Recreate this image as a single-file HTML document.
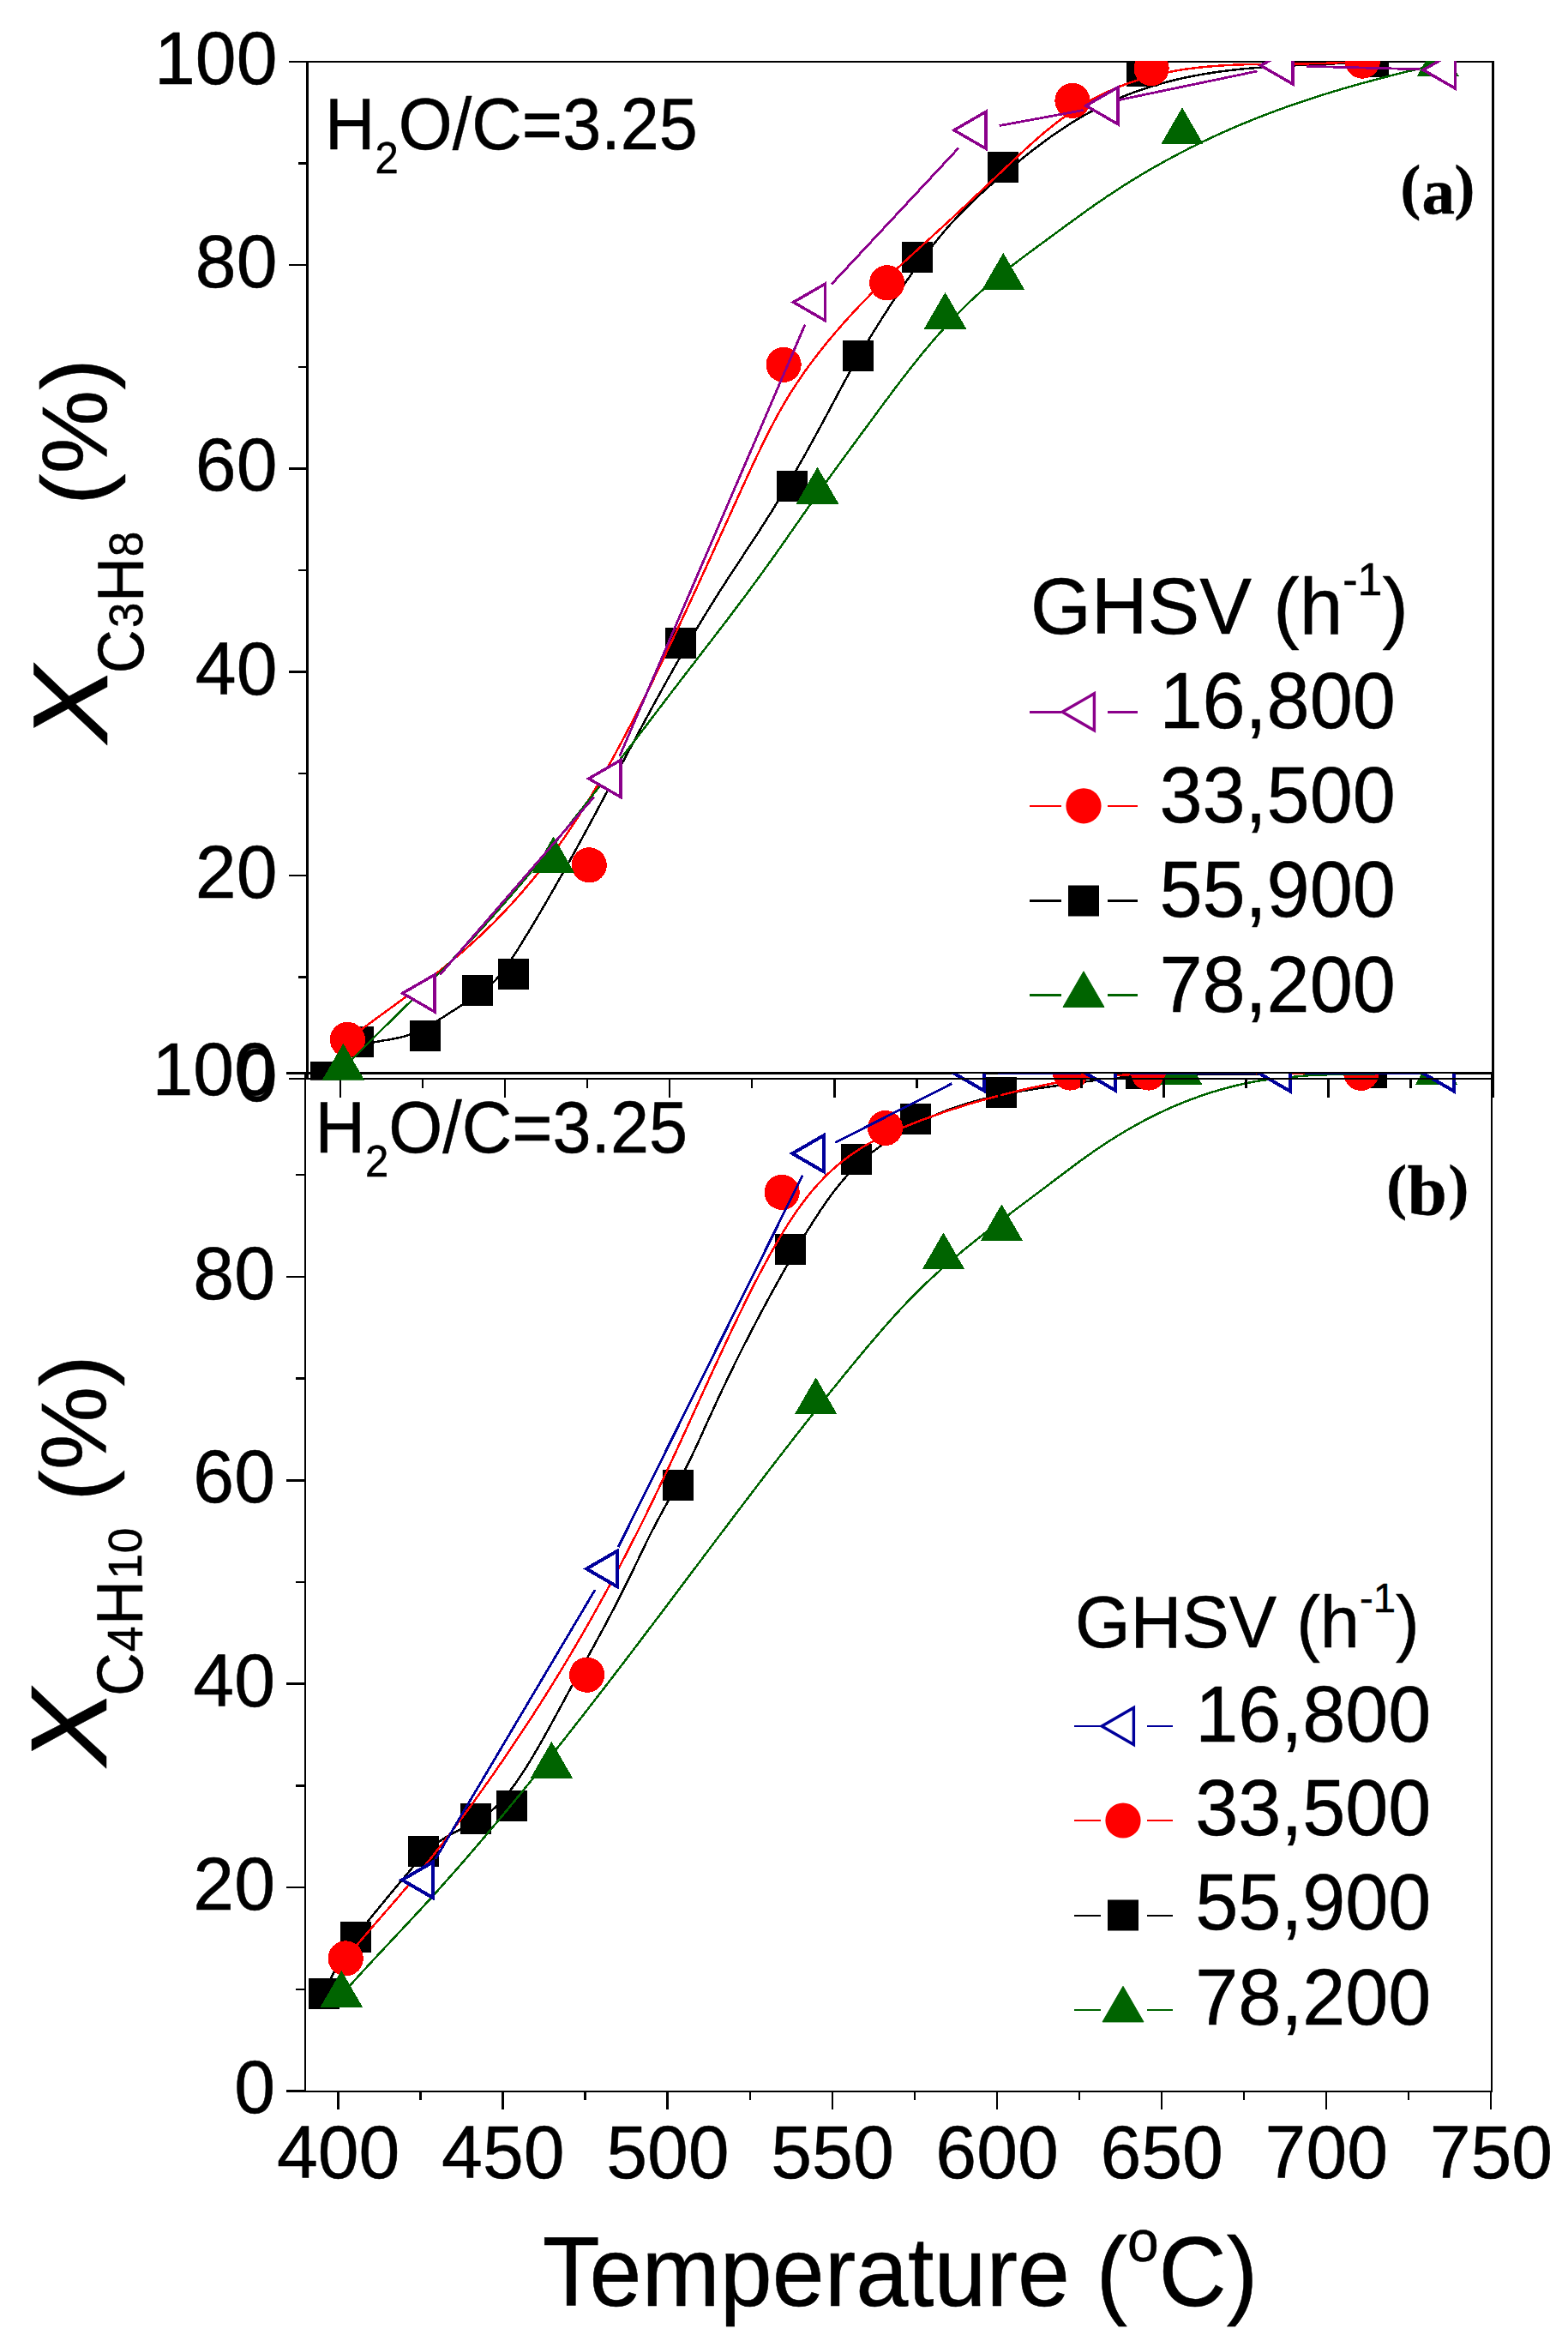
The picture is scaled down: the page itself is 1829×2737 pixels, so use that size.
<!DOCTYPE html>
<html lang="en"><head><meta charset="utf-8"><title>Conversion vs temperature</title>
<style>html,body{margin:0;padding:0;background:#fff}svg{display:block}text{stroke:#000;stroke-width:.5px;stroke-linejoin:round}</style></head><body>
<svg width="1829" height="2737" viewBox="0 0 1829 2737">
<rect width="1829" height="2737" fill="#fff"/>
<defs>
<clipPath id="clipA"><rect x="357.5" y="71" width="1385" height="1188.7"/></clipPath>
<clipPath id="clipB"><rect x="355" y="1252" width="1386" height="1187"/></clipPath>
</defs>
<!-- panel b -->
<g stroke="#000" stroke-width="2.5" fill="none" shape-rendering="crispEdges">
<path stroke="none" fill="#000" d="M355 1250H357V2440H355Z M1739 1250H1741V2440H1739Z M355 1250H1741V1253H355Z M355 2438H1741V2440H355Z"/>
<path d="M356 2438.5 H334"/>
<path d="M356 2319.8 H345"/>
<path d="M356 2201.1 H334"/>
<path d="M356 2082.4 H345"/>
<path d="M356 1963.7 H334"/>
<path d="M356 1845 H345"/>
<path d="M356 1726.3 H334"/>
<path d="M356 1607.6 H345"/>
<path d="M356 1488.9 H334"/>
<path d="M356 1370.2 H345"/>
<path d="M356 1251.5 H334"/>
<path d="M394.5 2438.5 V2459.8"/>
<path d="M490.6 2438.5 V2449.1"/>
<path d="M586.6 2438.5 V2459.8"/>
<path d="M682.7 2438.5 V2449.1"/>
<path d="M778.7 2438.5 V2459.8"/>
<path d="M874.8 2438.5 V2449.1"/>
<path d="M970.8 2438.5 V2459.8"/>
<path d="M1066.8 2438.5 V2449.1"/>
<path d="M1162.9 2438.5 V2459.8"/>
<path d="M1259 2438.5 V2449.1"/>
<path d="M1355 2438.5 V2459.8"/>
<path d="M1451 2438.5 V2449.1"/>
<path d="M1547.1 2438.5 V2459.8"/>
<path d="M1643.2 2438.5 V2449.1"/>
<path d="M1739.2 2438.5 V2459.8"/>
</g>
<g font-family='"Liberation Sans", sans-serif' font-size="86" text-anchor="end" fill="#000">
<text transform="translate(321,2464.4) scale(1,1.015)">0</text>
<text transform="translate(321,2227) scale(1,1.015)">20</text>
<text transform="translate(321,1989.6) scale(1,1.015)">40</text>
<text transform="translate(321,1752.2) scale(1,1.015)">60</text>
<text transform="translate(321,1514.8) scale(1,1.015)">80</text>
<text transform="translate(321,1277.4) scale(1,1.015)">100</text>
</g>
<g font-family='"Liberation Sans", sans-serif' font-size="86" text-anchor="middle" fill="#000">
<text transform="translate(394.7,2539.6) scale(1,1.005)">400</text>
<text transform="translate(586.8,2539.6) scale(1,1.005)">450</text>
<text transform="translate(778.9,2539.6) scale(1,1.005)">500</text>
<text transform="translate(971,2539.6) scale(1,1.005)">550</text>
<text transform="translate(1163.1,2539.6) scale(1,1.005)">600</text>
<text transform="translate(1355.2,2539.6) scale(1,1.005)">650</text>
<text transform="translate(1547.3,2539.6) scale(1,1.005)">700</text>
<text transform="translate(1739.4,2539.6) scale(1,1.005)">750</text>
</g>
<g clip-path="url(#clipB)" shape-rendering="crispEdges">
<path d="M377.6 2325 L381.6 2316.2 L385.6 2307.9 L389.6 2300 L393.6 2292.6 L397.6 2285.6 L401.6 2279 L405.6 2272.7 L409.6 2266.7 L413.6 2260.9 L417.6 2255.4 L421.6 2250.1 L425.6 2245 L429.6 2240 L433.6 2235 L437.6 2230.1 L441.6 2225.3 L445.6 2220.4 L449.6 2215.6 L453.6 2210.7 L457.6 2205.9 L461.6 2201.1 L465.6 2196.3 L469.6 2191.6 L473.6 2186.8 L477.6 2182.1 L481.6 2177.4 L485.6 2172.8 L489.6 2168.3 L493.6 2163.9 L497.6 2159.9 L501.6 2156.2 L505.6 2152.7 L509.6 2149.6 L513.6 2146.7 L517.6 2144 L521.6 2141.6 L525.6 2139.3 L529.6 2137.1 L533.6 2135.1 L537.6 2133.1 L541.6 2131.1 L545.6 2129.1 L549.6 2127.1 L553.6 2124.9 L557.6 2122.6 L561.6 2120.1 L565.6 2117.4 L569.6 2114.5 L573.6 2111.3 L577.6 2107.8 L581.6 2103.9 L585.6 2099.6 L589.6 2095 L593.6 2090.1 L597.6 2084.8 L601.6 2079.3 L605.6 2073.6 L609.6 2067.5 L613.6 2061.3 L617.6 2054.8 L621.6 2048.2 L625.6 2041.4 L629.6 2034.5 L633.6 2027.4 L637.6 2020.3 L641.6 2013 L645.6 2005.7 L649.6 1998.4 L653.6 1991 L657.6 1983.6 L661.6 1976.2 L665.6 1968.9 L669.6 1961.5 L673.6 1954.3 L677.6 1947 L681.6 1939.7 L685.6 1932.4 L689.6 1925.1 L693.6 1917.8 L697.6 1910.4 L701.6 1903 L705.6 1895.6 L709.6 1888 L713.6 1880.4 L717.6 1872.7 L721.6 1865 L725.6 1857.1 L729.6 1849.1 L733.6 1841 L737.6 1832.8 L741.6 1824.4 L745.6 1816.1 L749.6 1807.8 L753.6 1799.5 L757.6 1791.4 L761.6 1783.5 L765.6 1775.8 L769.6 1768.3 L773.6 1760.9 L777.6 1753.7 L781.6 1746.6 L785.6 1739.4 L789.6 1732.1 L793.6 1724.6 L797.6 1717 L801.6 1709 L805.6 1700.8 L809.6 1692.4 L813.6 1683.7 L817.6 1675 L821.6 1666.1 L825.6 1657.3 L829.6 1648.5 L833.6 1639.8 L837.6 1631.1 L841.6 1622.6 L845.6 1614.2 L849.6 1605.9 L853.6 1597.6 L857.6 1589.5 L861.6 1581.4 L865.6 1573.4 L869.6 1565.5 L873.6 1557.7 L877.6 1550 L881.6 1542.3 L885.6 1534.7 L889.6 1527.2 L893.6 1519.8 L897.6 1512.4 L901.6 1505.1 L905.6 1497.8 L909.6 1490.7 L913.6 1483.5 L917.6 1476.5 L921.6 1469.5 L925.6 1462.5 L929.6 1455.7 L933.6 1448.9 L937.6 1442.2 L941.6 1435.6 L945.6 1429.2 L949.6 1422.8 L953.6 1416.7 L957.6 1410.6 L961.6 1404.8 L965.6 1399.1 L969.6 1393.6 L973.6 1388.3 L977.6 1383.2 L981.6 1378.4 L985.6 1373.7 L989.6 1369.3 L993.6 1365.1 L997.6 1361.1 L1001.6 1357.3 L1005.6 1353.7 L1009.6 1350.2 L1013.6 1346.8 L1017.6 1343.6 L1021.6 1340.6 L1025.6 1337.6 L1029.6 1334.7 L1033.6 1331.9 L1037.6 1329.2 L1041.6 1326.6 L1045.6 1324 L1049.6 1321.5 L1053.6 1319.1 L1057.6 1316.8 L1061.6 1314.6 L1065.6 1312.4 L1069.6 1310.3 L1073.6 1308.3 L1077.6 1306.4 L1081.6 1304.5 L1085.6 1302.6 L1089.6 1300.9 L1093.6 1299.2 L1097.6 1297.5 L1101.6 1296 L1105.6 1294.4 L1109.6 1293 L1113.6 1291.6 L1117.6 1290.2 L1121.6 1288.9 L1125.6 1287.6 L1129.6 1286.4 L1133.6 1285.2 L1137.6 1284.1 L1141.6 1283 L1145.6 1282 L1149.6 1281 L1153.6 1280 L1157.6 1279.1 L1161.6 1278.2 L1165.6 1277.3 L1169.6 1276.5 L1173.6 1275.7 L1177.6 1274.9 L1181.6 1274.1 L1185.6 1273.4 L1189.6 1272.7 L1193.6 1272 L1197.6 1271.4 L1201.6 1270.7 L1205.6 1270.1 L1209.6 1269.5 L1213.6 1268.9 L1217.6 1268.3 L1221.6 1267.7 L1225.6 1267.1 L1229.6 1266.5 L1233.6 1266 L1237.6 1265.4 L1241.6 1264.8 L1245.6 1264.3 L1249.6 1263.7 L1253.6 1263.2 L1257.6 1262.6 L1261.6 1262 L1265.6 1261.4 L1267.8 1261.1 L1331 1254 L1599.7 1251" fill="none" stroke="#000000" stroke-width="2.5" stroke-linejoin="round"/>
<rect x="359.6" y="2307" width="36" height="36" fill="#000000"/><rect x="396.9" y="2240.5" width="36" height="36" fill="#000000"/><rect x="475.7" y="2140.9" width="36" height="36" fill="#000000"/><rect x="536.5" y="2103.4" width="36" height="36" fill="#000000"/><rect x="578.9" y="2088.4" width="36" height="36" fill="#000000"/><rect x="773.4" y="1714.2" width="36" height="36" fill="#000000"/><rect x="904" y="1438.8" width="36" height="36" fill="#000000"/><rect x="981" y="1333.8" width="36" height="36" fill="#000000"/><rect x="1050" y="1286.5" width="36" height="36" fill="#000000"/><rect x="1150" y="1256" width="36" height="36" fill="#000000"/><rect x="1313" y="1233.7" width="36" height="36" fill="#000000"/><rect x="1581.7" y="1233" width="36" height="36" fill="#000000"/>
<path d="M403.2 2283.9 L407.2 2279.1 L411.2 2274.3 L415.2 2269.6 L419.2 2264.9 L423.2 2260.2 L427.2 2255.5 L431.2 2250.9 L435.2 2246.2 L439.2 2241.6 L443.2 2237 L447.2 2232.4 L451.2 2227.8 L455.2 2223.2 L459.2 2218.6 L463.2 2214 L467.2 2209.3 L471.2 2204.6 L475.2 2200 L479.2 2195.2 L483.2 2190.5 L487.2 2185.7 L491.2 2180.9 L495.2 2176 L499.2 2171.1 L503.2 2166.2 L507.2 2161.2 L511.2 2156.1 L515.2 2151 L519.2 2145.8 L523.2 2140.7 L527.2 2135.4 L531.2 2130.1 L535.2 2124.8 L539.2 2119.4 L543.2 2114 L547.2 2108.6 L551.2 2103.1 L555.2 2097.5 L559.2 2092 L563.2 2086.4 L567.2 2080.7 L571.2 2075 L575.2 2069.3 L579.2 2063.5 L583.2 2057.7 L587.2 2051.9 L591.2 2046 L595.2 2040.1 L599.2 2034.2 L603.2 2028.2 L607.2 2022.2 L611.2 2016.1 L615.2 2010 L619.2 2003.9 L623.2 1997.7 L627.2 1991.5 L631.2 1985.2 L635.2 1978.9 L639.2 1972.5 L643.2 1966.1 L647.2 1959.6 L651.2 1953.1 L655.2 1946.5 L659.2 1939.9 L663.2 1933.2 L667.2 1926.5 L671.2 1919.7 L675.2 1912.8 L679.2 1905.9 L683.2 1899 L687.2 1891.9 L691.2 1884.9 L695.2 1877.7 L699.2 1870.5 L703.2 1863.2 L707.2 1855.9 L711.2 1848.5 L715.2 1841 L719.2 1833.5 L723.2 1825.9 L727.2 1818.3 L731.2 1810.6 L735.2 1802.8 L739.2 1794.9 L743.2 1787 L747.2 1779 L751.2 1771 L755.2 1762.9 L759.2 1754.7 L763.2 1746.4 L767.2 1738.1 L771.2 1729.7 L775.2 1721.3 L779.2 1712.8 L783.2 1704.2 L787.2 1695.6 L791.2 1686.9 L795.2 1678.2 L799.2 1669.4 L803.2 1660.7 L807.2 1651.9 L811.2 1643.1 L815.2 1634.3 L819.2 1625.5 L823.2 1616.8 L827.2 1608 L831.2 1599.3 L835.2 1590.6 L839.2 1581.9 L843.2 1573.3 L847.2 1564.7 L851.2 1556.2 L855.2 1547.7 L859.2 1539.4 L863.2 1531.1 L867.2 1522.9 L871.2 1514.7 L875.2 1506.7 L879.2 1498.8 L883.2 1491 L887.2 1483.4 L891.2 1475.9 L895.2 1468.5 L899.2 1461.2 L903.2 1454.2 L907.2 1447.3 L911.2 1440.5 L915.2 1434 L919.2 1427.6 L923.2 1421.4 L927.2 1415.5 L931.2 1409.7 L935.2 1404.2 L939.2 1398.9 L943.2 1393.8 L947.2 1388.9 L951.2 1384.3 L955.2 1379.8 L959.2 1375.6 L963.2 1371.5 L967.2 1367.6 L971.2 1363.9 L975.2 1360.4 L979.2 1357 L983.2 1353.8 L987.2 1350.7 L991.2 1347.7 L995.2 1344.9 L999.2 1342.3 L1003.2 1339.7 L1007.2 1337.2 L1011.2 1334.9 L1015.2 1332.7 L1019.2 1330.5 L1023.2 1328.4 L1027.2 1326.4 L1031.2 1324.5 L1035.2 1322.7 L1039.2 1320.9 L1043.2 1319.1 L1047.2 1317.4 L1051.2 1315.7 L1055.2 1314.1 L1059.2 1312.5 L1063.2 1310.9 L1067.2 1309.3 L1071.2 1307.7 L1075.2 1306.2 L1079.2 1304.7 L1083.2 1303.3 L1087.2 1301.8 L1091.2 1300.4 L1095.2 1299 L1099.2 1297.6 L1103.2 1296.2 L1107.2 1294.9 L1111.2 1293.6 L1115.2 1292.3 L1119.2 1291 L1123.2 1289.7 L1127.2 1288.5 L1131.2 1287.3 L1135.2 1286.1 L1139.2 1284.9 L1143.2 1283.8 L1147.2 1282.6 L1151.2 1281.5 L1155.2 1280.4 L1159.2 1279.3 L1163.2 1278.3 L1167.2 1277.2 L1171.2 1276.2 L1175.2 1275.2 L1179.2 1274.2 L1183.2 1273.2 L1187.2 1272.3 L1191.2 1271.3 L1195.2 1270.4 L1199.2 1269.5 L1203.2 1268.6 L1207.2 1267.7 L1211.2 1266.9 L1215.2 1266 L1219.2 1265.2 L1223.2 1264.3 L1227.2 1263.5 L1231.2 1262.7 L1235.2 1261.9 L1239.2 1261.2 L1243.2 1260.4 L1247.2 1259.7 L1251.2 1258.9 L1255.2 1258.2 L1259.2 1257.5 L1263.2 1256.8 L1267.2 1256.1 L1339.7 1252 L1587.8 1251.3" fill="none" stroke="#ff0000" stroke-width="2.5" stroke-linejoin="round"/>
<circle cx="403.2" cy="2283.9" r="20.6" fill="#ff0000"/><circle cx="684.6" cy="1953.2" r="20.6" fill="#ff0000"/><circle cx="912.2" cy="1390.4" r="20.6" fill="#ff0000"/><circle cx="1032.6" cy="1315.5" r="20.6" fill="#ff0000"/><circle cx="1248.3" cy="1251" r="20.6" fill="#ff0000"/><circle cx="1339.7" cy="1251" r="20.6" fill="#ff0000"/><circle cx="1587.8" cy="1251.3" r="20.6" fill="#ff0000"/>
<path d="M398.3 2326.6 L402.3 2322.1 L406.3 2317.6 L410.3 2313.1 L414.3 2308.7 L418.3 2304.3 L422.3 2299.9 L426.3 2295.6 L430.3 2291.3 L434.3 2286.9 L438.3 2282.6 L442.3 2278.4 L446.3 2274.1 L450.3 2269.8 L454.3 2265.5 L458.3 2261.3 L462.3 2257 L466.3 2252.7 L470.3 2248.5 L474.3 2244.2 L478.3 2239.9 L482.3 2235.6 L486.3 2231.3 L490.3 2227 L494.3 2222.6 L498.3 2218.3 L502.3 2213.9 L506.3 2209.5 L510.3 2205 L514.3 2200.6 L518.3 2196.1 L522.3 2191.6 L526.3 2187.1 L530.3 2182.6 L534.3 2178 L538.3 2173.4 L542.3 2168.9 L546.3 2164.2 L550.3 2159.6 L554.3 2155 L558.3 2150.3 L562.3 2145.6 L566.3 2140.9 L570.3 2136.2 L574.3 2131.4 L578.3 2126.6 L582.3 2121.9 L586.3 2117.1 L590.3 2112.3 L594.3 2107.4 L598.3 2102.6 L602.3 2097.7 L606.3 2092.8 L610.3 2087.9 L614.3 2083 L618.3 2078.1 L622.3 2073.2 L626.3 2068.2 L630.3 2063.2 L634.3 2058.3 L638.3 2053.3 L642.3 2048.3 L646.3 2043.2 L650.3 2038.2 L654.3 2033.1 L658.3 2028.1 L662.3 2023 L666.3 2017.9 L670.3 2012.8 L674.3 2007.7 L678.3 2002.6 L682.3 1997.5 L686.3 1992.3 L690.3 1987.2 L694.3 1982 L698.3 1976.8 L702.3 1971.7 L706.3 1966.5 L710.3 1961.3 L714.3 1956.1 L718.3 1950.8 L722.3 1945.6 L726.3 1940.4 L730.3 1935.1 L734.3 1929.9 L738.3 1924.6 L742.3 1919.4 L746.3 1914.1 L750.3 1908.8 L754.3 1903.5 L758.3 1898.2 L762.3 1893 L766.3 1887.7 L770.3 1882.4 L774.3 1877.1 L778.3 1871.7 L782.3 1866.4 L786.3 1861.1 L790.3 1855.8 L794.3 1850.5 L798.3 1845.2 L802.3 1839.8 L806.3 1834.5 L810.3 1829.2 L814.3 1823.9 L818.3 1818.6 L822.3 1813.2 L826.3 1807.9 L830.3 1802.6 L834.3 1797.3 L838.3 1792 L842.3 1786.7 L846.3 1781.4 L850.3 1776.1 L854.3 1770.8 L858.3 1765.5 L862.3 1760.2 L866.3 1755 L870.3 1749.7 L874.3 1744.4 L878.3 1739.2 L882.3 1733.9 L886.3 1728.7 L890.3 1723.5 L894.3 1718.2 L898.3 1713 L902.3 1707.8 L906.3 1702.6 L910.3 1697.4 L914.3 1692.3 L918.3 1687.1 L922.3 1682 L926.3 1676.8 L930.3 1671.7 L934.3 1666.6 L938.3 1661.5 L942.3 1656.4 L946.3 1651.3 L950.3 1646.3 L954.3 1641.2 L958.3 1636.2 L962.3 1631.2 L966.3 1626.2 L970.3 1621.2 L974.3 1616.3 L978.3 1611.4 L982.3 1606.4 L986.3 1601.5 L990.3 1596.6 L994.3 1591.8 L998.3 1586.9 L1002.3 1582.1 L1006.3 1577.3 L1010.3 1572.5 L1014.3 1567.8 L1018.3 1563.1 L1022.3 1558.4 L1026.3 1553.7 L1030.3 1549.1 L1034.3 1544.6 L1038.3 1540 L1042.3 1535.6 L1046.3 1531.2 L1050.3 1526.8 L1054.3 1522.6 L1058.3 1518.4 L1062.3 1514.2 L1066.3 1510.1 L1070.3 1506.1 L1074.3 1502.2 L1078.3 1498.3 L1082.3 1494.5 L1086.3 1490.8 L1090.3 1487.1 L1094.3 1483.5 L1098.3 1479.9 L1102.3 1476.3 L1106.3 1472.9 L1110.3 1469.4 L1114.3 1466 L1118.3 1462.7 L1122.3 1459.3 L1126.3 1456 L1130.3 1452.8 L1134.3 1449.5 L1138.3 1446.3 L1142.3 1443.2 L1146.3 1440 L1150.3 1436.9 L1154.3 1433.7 L1158.3 1430.6 L1162.3 1427.6 L1166.3 1424.5 L1170.3 1421.4 L1174.3 1418.4 L1178.3 1415.4 L1182.3 1412.3 L1186.3 1409.3 L1190.3 1406.3 L1194.3 1403.3 L1198.3 1400.3 L1202.3 1397.3 L1206.3 1394.3 L1210.3 1391.3 L1214.3 1388.3 L1218.3 1385.3 L1222.3 1382.3 L1226.3 1379.2 L1230.3 1376.2 L1234.3 1373.2 L1238.3 1370.2 L1242.3 1367.1 L1246.3 1364.1 L1250.3 1361.1 L1254.3 1358.2 L1258.3 1355.2 L1262.3 1352.3 L1266.3 1349.4 L1270.3 1346.6 L1274.3 1343.8 L1278.3 1341 L1282.3 1338.3 L1286.3 1335.6 L1290.3 1333 L1294.3 1330.4 L1298.3 1327.9 L1302.3 1325.4 L1306.3 1322.9 L1310.3 1320.5 L1314.3 1318.1 L1318.3 1315.8 L1322.3 1313.6 L1326.3 1311.3 L1330.3 1309.2 L1334.3 1307 L1338.3 1304.9 L1342.3 1302.9 L1346.3 1300.9 L1350.3 1298.9 L1354.3 1297 L1358.3 1295.1 L1362.3 1293.3 L1366.3 1291.5 L1370.3 1289.8 L1374.3 1288.1 L1378.3 1286.4 L1382.3 1284.8 L1386.3 1283.3 L1390.3 1281.7 L1394.3 1280.3 L1398.3 1278.8 L1402.3 1277.4 L1406.3 1276.1 L1410.3 1274.8 L1414.3 1273.5 L1418.3 1272.3 L1422.3 1271.1 L1426.3 1270 L1430.3 1268.9 L1434.3 1267.8 L1438.3 1266.8 L1442.3 1265.8 L1446.3 1264.9 L1450.3 1264 L1454.3 1263.2 L1458.3 1262.4 L1462.3 1261.6 L1466.3 1260.9 L1470.3 1260.2 L1474.3 1259.6 L1478.3 1259 L1482.3 1258.5 L1486.3 1258 L1490.3 1257.5 L1494.3 1257.1 L1498.3 1256.7 L1500 1256.5 L1534.7 1253.5 L1675.5 1251" fill="none" stroke="#006400" stroke-width="2.5" stroke-linejoin="round"/>
<polygon points="398.3,2298.9 374.3,2340.5 422.3,2340.5" fill="#006400" stroke="#006400" stroke-width="1" stroke-linejoin="round"/><polygon points="643.4,2031.9 619.4,2073.5 667.4,2073.5" fill="#006400" stroke="#006400" stroke-width="1" stroke-linejoin="round"/><polygon points="951.7,1607.3 927.7,1648.9 975.7,1648.9" fill="#006400" stroke="#006400" stroke-width="1" stroke-linejoin="round"/><polygon points="1100.5,1438.3 1076.5,1479.9 1124.5,1479.9" fill="#006400" stroke="#006400" stroke-width="1" stroke-linejoin="round"/><polygon points="1168.4,1405.3 1144.4,1446.9 1192.4,1446.9" fill="#006400" stroke="#006400" stroke-width="1" stroke-linejoin="round"/><polygon points="1377.8,1223.3 1353.8,1264.9 1401.8,1264.9" fill="#006400" stroke="#006400" stroke-width="1" stroke-linejoin="round"/><polygon points="1675.5,1223.3 1651.5,1264.9 1699.5,1264.9" fill="#006400" stroke="#006400" stroke-width="1" stroke-linejoin="round"/>
<path d="M508 2167.8 L694.1 1854 M721.3 1804 L936.1 1370.7 M974.2 1332.4 L1110.4 1263.6 M1164.3 1251.6 H1261.1 M1318.1 1251.6 H1464.5 M1521.5 1251.6 H1655.7" fill="none" stroke="#00009b" stroke-width="2.8"/>
<polygon points="469,2192.3 505.3,2171.3 505.3,2213.3" fill="#fff" stroke="#00009b" stroke-width="4" stroke-linejoin="miter"/><polygon points="684.1,1829.5 720.4,1808.5 720.4,1850.5" fill="#fff" stroke="#00009b" stroke-width="4" stroke-linejoin="miter"/><polygon points="924.3,1345.2 960.6,1324.2 960.6,1366.2" fill="#fff" stroke="#00009b" stroke-width="4" stroke-linejoin="miter"/><polygon points="1111.3,1250.8 1147.6,1229.8 1147.6,1271.8" fill="#fff" stroke="#00009b" stroke-width="4" stroke-linejoin="miter"/><polygon points="1265.1,1250.8 1301.4,1229.8 1301.4,1271.8" fill="#fff" stroke="#00009b" stroke-width="4" stroke-linejoin="miter"/><polygon points="1468.5,1251.5 1504.8,1230.5 1504.8,1272.5" fill="#fff" stroke="#00009b" stroke-width="4" stroke-linejoin="miter"/><polygon points="1659.7,1251.5 1696,1230.5 1696,1272.5" fill="#fff" stroke="#00009b" stroke-width="4" stroke-linejoin="miter"/>
</g>
<!-- panel a -->
<g stroke="#000" stroke-width="2.5" fill="none" shape-rendering="crispEdges">
<path stroke="none" fill="#000" d="M357 71H360V1259H357Z M1740 71H1743V1259H1740Z M357 71H1743V73H357Z M357 1257H1743V1259H357Z"/>
<path d="M358.5 1258 H336.5"/>
<path d="M358.5 1139.4 H347.5"/>
<path d="M358.5 1020.8 H336.5"/>
<path d="M358.5 902.2 H347.5"/>
<path d="M358.5 783.6 H336.5"/>
<path d="M358.5 665 H347.5"/>
<path d="M358.5 546.4 H336.5"/>
<path d="M358.5 427.8 H347.5"/>
<path d="M358.5 309.2 H336.5"/>
<path d="M358.5 190.6 H347.5"/>
<path d="M358.5 72 H336.5"/>
<path d="M397 1258 V1280"/>
<path d="M493.1 1258 V1269"/>
<path d="M589.1 1258 V1280"/>
<path d="M685.2 1258 V1269"/>
<path d="M781.2 1258 V1280"/>
<path d="M877.2 1258 V1269"/>
<path d="M973.3 1258 V1280"/>
<path d="M1069.3 1258 V1269"/>
<path d="M1165.4 1258 V1280"/>
<path d="M1261.5 1258 V1269"/>
<path d="M1357.5 1258 V1280"/>
<path d="M1453.5 1258 V1269"/>
<path d="M1549.6 1258 V1280"/>
<path d="M1645.7 1258 V1269"/>
<path d="M1741.7 1258 V1280"/>
</g>
<g font-family='"Liberation Sans", sans-serif' font-size="86" text-anchor="end" fill="#000">
<text transform="translate(323.5,1283.9) scale(1,1.015)">0</text>
<text transform="translate(323.5,1046.7) scale(1,1.015)">20</text>
<text transform="translate(323.5,809.5) scale(1,1.015)">40</text>
<text transform="translate(323.5,572.3) scale(1,1.015)">60</text>
<text transform="translate(323.5,335.1) scale(1,1.015)">80</text>
<text transform="translate(323.5,97.9) scale(1,1.015)">100</text>
</g>
<g clip-path="url(#clipA)" shape-rendering="crispEdges">
<path d="M380 1256 L384 1251 L388 1246.3 L392 1241.9 L396 1237.7 L400 1233.9 L404 1230.4 L408 1227.3 L412 1224.5 L416 1222.2 L420 1220.2 L424 1218.7 L428 1217.4 L432 1216.4 L436 1215.5 L440 1214.7 L444 1214 L448 1213.3 L452 1212.7 L456 1212 L460 1211.2 L464 1210.4 L468 1209.5 L472 1208.4 L476 1207.2 L480 1205.8 L484 1204.2 L488 1202.4 L492 1200.5 L496 1198.5 L500 1196.3 L504 1194 L508 1191.6 L512 1189.2 L516 1186.7 L520 1184.1 L524 1181.6 L528 1179 L532 1176.5 L536 1173.9 L540 1171.4 L544 1169 L548 1166.5 L552 1164 L556 1161.4 L560 1158.6 L564 1155.7 L568 1152.4 L572 1148.9 L576 1145 L580 1140.7 L584 1136 L588 1130.8 L592 1125.3 L596 1119.4 L600 1113.4 L604 1107.1 L608 1100.7 L612 1094.1 L616 1087.6 L620 1081 L624 1074.3 L628 1067.6 L632 1060.8 L636 1054 L640 1047.1 L644 1040.1 L648 1033.2 L652 1026.1 L656 1019.1 L660 1011.9 L664 1004.8 L668 997.5 L672 990.3 L676 983 L680 975.6 L684 968.3 L688 960.9 L692 953.4 L696 946 L700 938.5 L704 931 L708 923.5 L712 916 L716 908.5 L720 901 L724 893.5 L728 885.9 L732 878.4 L736 870.9 L740 863.4 L744 856 L748 848.5 L752 841.1 L756 833.7 L760 826.3 L764 819 L768 811.7 L772 804.4 L776 797.2 L780 790 L784 782.9 L788 775.8 L792 768.8 L796 761.8 L800 754.9 L804 748 L808 741.2 L812 734.4 L816 727.7 L820 721.1 L824 714.5 L828 708 L832 701.6 L836 695.2 L840 688.9 L844 682.7 L848 676.5 L852 670.3 L856 664.2 L860 658.2 L864 652.1 L868 646 L872 640 L876 633.9 L880 627.8 L884 621.7 L888 615.5 L892 609.2 L896 602.9 L900 596.6 L904 590.1 L908 583.5 L912 576.9 L916 570.2 L920 563.4 L924 556.5 L928 549.6 L932 542.6 L936 535.5 L940 528.4 L944 521.2 L948 513.9 L952 506.6 L956 499.3 L960 491.9 L964 484.4 L968 477 L972 469.5 L976 462 L980 454.5 L984 447.1 L988 439.7 L992 432.5 L996 425.4 L1000 418.5 L1004 411.6 L1008 404.9 L1012 398.3 L1016 391.7 L1020 385.3 L1024 378.9 L1028 372.5 L1032 366.2 L1036 360 L1040 353.8 L1044 347.7 L1048 341.7 L1052 335.8 L1056 329.9 L1060 324.1 L1064 318.4 L1068 312.8 L1072 307.3 L1076 301.8 L1080 296.5 L1084 291.3 L1088 286.2 L1092 281.2 L1096 276.3 L1100 271.5 L1104 266.8 L1108 262.3 L1112 257.9 L1116 253.6 L1120 249.4 L1124 245.3 L1128 241.3 L1132 237.4 L1136 233.6 L1140 229.8 L1144 226.1 L1148 222.5 L1152 218.9 L1156 215.4 L1160 211.9 L1164 208.5 L1168 205.1 L1172 201.7 L1176 198.4 L1180 195 L1184 191.7 L1188 188.5 L1192 185.2 L1196 182 L1200 178.9 L1204 175.7 L1208 172.6 L1212 169.6 L1216 166.6 L1220 163.6 L1224 160.7 L1228 157.9 L1232 155.1 L1236 152.4 L1240 149.7 L1244 147.1 L1248 144.5 L1252 142 L1256 139.6 L1260 137.2 L1264 134.9 L1268 132.7 L1272 130.5 L1276 128.4 L1280 126.3 L1284 124.3 L1288 122.4 L1292 120.5 L1296 118.6 L1300 116.8 L1304 115.1 L1308 113.4 L1312 111.8 L1316 110.2 L1320 108.7 L1324 107.2 L1328 105.8 L1332 104.4 L1336 103.1 L1340 101.8 L1344 100.5 L1348 99.3 L1352 98.1 L1356 97 L1360 95.9 L1364 94.9 L1368 93.9 L1372 92.9 L1376 92 L1380 91.1 L1384 90.2 L1388 89.4 L1392 88.6 L1396 87.9 L1400 87.1 L1404 86.5 L1408 85.8 L1412 85.2 L1416 84.5 L1420 84 L1424 83.4 L1428 82.9 L1432 82.4 L1436 81.9 L1440 81.5 L1444 81 L1448 80.6 L1452 80.2 L1456 79.8 L1460 79.5 L1464 79.2 L1468 78.8 L1472 78.5 L1476 78.2 L1480 78 L1484 77.7 L1488 77.5 L1492 77.2 L1496 77 L1500 76.8 L1504 76.6 L1508 76.4 L1512 76.2 L1516 76 L1520 75.8 L1524 75.6 L1528 75.5 L1532 75.3 L1536 75.1 L1540 74.9 L1544 74.8 L1548 74.6 L1552 74.4 L1556 74.3 L1560 74.1 L1564 73.9 L1568 73.7 L1572 73.5 L1576 73.3 L1580 73.1 L1584 72.9 L1588 72.7 L1592 72.4 L1596 72.2 L1600 71.9 L1601.6 71.8" fill="none" stroke="#000000" stroke-width="2.5" stroke-linejoin="round"/>
<rect x="362" y="1238" width="36" height="36" fill="#000000"/><rect x="400" y="1197" width="36" height="36" fill="#000000"/><rect x="477.6" y="1190" width="36" height="36" fill="#000000"/><rect x="539" y="1137" width="36" height="36" fill="#000000"/><rect x="581" y="1118.3" width="36" height="36" fill="#000000"/><rect x="775.5" y="732" width="36" height="36" fill="#000000"/><rect x="906.2" y="548.5" width="36" height="36" fill="#000000"/><rect x="983.1" y="396.9" width="36" height="36" fill="#000000"/><rect x="1052.2" y="282" width="36" height="36" fill="#000000"/><rect x="1152.2" y="177" width="36" height="36" fill="#000000"/><rect x="1314" y="65.4" width="36" height="36" fill="#000000"/><rect x="1583.6" y="53.8" width="36" height="36" fill="#000000"/>
<path d="M405.4 1212.4 L409.4 1209.4 L413.4 1206.5 L417.4 1203.5 L421.4 1200.6 L425.4 1197.6 L429.4 1194.7 L433.4 1191.8 L437.4 1188.9 L441.4 1185.9 L445.4 1183 L449.4 1180.1 L453.4 1177.2 L457.4 1174.3 L461.4 1171.3 L465.4 1168.4 L469.4 1165.5 L473.4 1162.5 L477.4 1159.5 L481.4 1156.5 L485.4 1153.5 L489.4 1150.5 L493.4 1147.4 L497.4 1144.3 L501.4 1141.2 L505.4 1138.1 L509.4 1134.9 L513.4 1131.7 L517.4 1128.5 L521.4 1125.2 L525.4 1121.9 L529.4 1118.5 L533.4 1115.1 L537.4 1111.7 L541.4 1108.2 L545.4 1104.7 L549.4 1101.1 L553.4 1097.4 L557.4 1093.8 L561.4 1090 L565.4 1086.2 L569.4 1082.3 L573.4 1078.4 L577.4 1074.4 L581.4 1070.3 L585.4 1066.2 L589.4 1062 L593.4 1057.7 L597.4 1053.4 L601.4 1049 L605.4 1044.5 L609.4 1039.9 L613.4 1035.2 L617.4 1030.5 L621.4 1025.7 L625.4 1020.7 L629.4 1015.7 L633.4 1010.6 L637.4 1005.4 L641.4 1000.2 L645.4 994.8 L649.4 989.3 L653.4 983.7 L657.4 978 L661.4 972.2 L665.4 966.3 L669.4 960.3 L673.4 954.2 L677.4 947.9 L681.4 941.6 L685.4 935.1 L689.4 928.5 L693.4 921.8 L697.4 915 L701.4 908.1 L705.4 901.1 L709.4 894 L713.4 886.8 L717.4 879.5 L721.4 872.1 L725.4 864.7 L729.4 857.1 L733.4 849.5 L737.4 841.8 L741.4 834 L745.4 826.1 L749.4 818.2 L753.4 810.2 L757.4 802.1 L761.4 794 L765.4 785.8 L769.4 777.5 L773.4 769.2 L777.4 760.9 L781.4 752.4 L785.4 744 L789.4 735.5 L793.4 727 L797.4 718.4 L801.4 709.8 L805.4 701.1 L809.4 692.5 L813.4 683.8 L817.4 675.1 L821.4 666.3 L825.4 657.6 L829.4 648.8 L833.4 640 L837.4 631.2 L841.4 622.4 L845.4 613.6 L849.4 604.8 L853.4 596 L857.4 587.2 L861.4 578.3 L865.4 569.6 L869.4 560.8 L873.4 552.1 L877.4 543.5 L881.4 535 L885.4 526.7 L889.4 518.4 L893.4 510.3 L897.4 502.4 L901.4 494.6 L905.4 487.1 L909.4 479.8 L913.4 472.8 L917.4 466 L921.4 459.4 L925.4 453.1 L929.4 446.9 L933.4 441 L937.4 435.2 L941.4 429.6 L945.4 424.2 L949.4 418.8 L953.4 413.6 L957.4 408.5 L961.4 403.5 L965.4 398.6 L969.4 393.8 L973.4 389 L977.4 384.4 L981.4 379.8 L985.4 375.2 L989.4 370.8 L993.4 366.4 L997.4 362.1 L1001.4 357.8 L1005.4 353.6 L1009.4 349.5 L1013.4 345.4 L1017.4 341.3 L1021.4 337.3 L1025.4 333.4 L1029.4 329.5 L1033.4 325.6 L1037.4 321.7 L1041.4 317.9 L1045.4 314.2 L1049.4 310.4 L1053.4 306.7 L1057.4 303 L1061.4 299.3 L1065.4 295.6 L1069.4 292 L1073.4 288.3 L1077.4 284.7 L1081.4 281 L1085.4 277.4 L1089.4 273.7 L1093.4 270.1 L1097.4 266.4 L1101.4 262.8 L1105.4 259.1 L1109.4 255.4 L1113.4 251.7 L1117.4 248 L1121.4 244.2 L1125.4 240.5 L1129.4 236.7 L1133.4 233 L1137.4 229.2 L1141.4 225.4 L1145.4 221.7 L1149.4 217.9 L1153.4 214.1 L1157.4 210.3 L1161.4 206.6 L1165.4 202.8 L1169.4 199 L1173.4 195.2 L1177.4 191.5 L1181.4 187.7 L1185.4 184 L1189.4 180.2 L1193.4 176.5 L1197.4 172.9 L1201.4 169.2 L1205.4 165.6 L1209.4 162.1 L1213.4 158.6 L1217.4 155.2 L1221.4 151.9 L1225.4 148.6 L1229.4 145.4 L1233.4 142.4 L1237.4 139.4 L1241.4 136.5 L1245.4 133.7 L1249.4 130.9 L1253.4 128.3 L1257.4 125.8 L1261.4 123.3 L1265.4 120.9 L1269.4 118.6 L1273.4 116.4 L1277.4 114.2 L1281.4 112.2 L1285.4 110.2 L1289.4 108.2 L1293.4 106.4 L1297.4 104.6 L1301.4 102.9 L1305.4 101.2 L1309.4 99.6 L1313.4 98.1 L1317.4 96.7 L1321.4 95.3 L1325.4 94 L1329.4 92.7 L1333.4 91.5 L1337.4 90.3 L1341.4 89.2 L1345.4 88.2 L1349.4 87.2 L1353.4 86.2 L1357.4 85.3 L1361.4 84.5 L1365.4 83.7 L1369.4 82.9 L1373.4 82.2 L1377.4 81.6 L1381.4 80.9 L1385.4 80.4 L1389.4 79.8 L1393.4 79.3 L1397.4 78.8 L1401.4 78.4 L1405.4 78 L1409.4 77.6 L1413.4 77.3 L1417.4 77 L1421.4 76.7 L1425.4 76.4 L1429.4 76.2 L1433.4 76 L1437.4 75.8 L1441.4 75.6 L1445.4 75.4 L1449.4 75.3 L1453.4 75.2 L1457.4 75.1 L1461.4 75 L1465.4 74.9 L1469.4 74.9 L1473.4 74.8 L1477.4 74.8 L1481.4 74.7 L1485.4 74.7 L1489.4 74.6 L1493.4 74.6 L1497.4 74.6 L1501.4 74.6 L1505.4 74.5 L1509.4 74.5 L1513.4 74.5 L1517.4 74.4 L1521.4 74.4 L1525.4 74.3 L1529.4 74.2 L1533.4 74.2 L1537.4 74.1 L1541.4 74 L1545.4 73.8 L1549.4 73.7 L1553.4 73.5 L1557.4 73.4 L1561.4 73.2 L1565.4 73 L1569.4 72.7 L1573.4 72.4 L1577.4 72.1 L1581.4 71.8 L1585.4 71.5 L1589.3 71.1" fill="none" stroke="#ff0000" stroke-width="2.5" stroke-linejoin="round"/>
<circle cx="405.4" cy="1212.4" r="20.6" fill="#ff0000"/><circle cx="687.2" cy="1008.8" r="20.6" fill="#ff0000"/><circle cx="914.1" cy="425.3" r="20.6" fill="#ff0000"/><circle cx="1034.7" cy="329.8" r="20.6" fill="#ff0000"/><circle cx="1251" cy="117.4" r="20.6" fill="#ff0000"/><circle cx="1343.1" cy="79.7" r="20.6" fill="#ff0000"/><circle cx="1589.3" cy="71.1" r="20.6" fill="#ff0000"/>
<path d="M400.4 1245.5 L404.4 1241.4 L408.4 1237.4 L412.4 1233.4 L416.4 1229.4 L420.4 1225.4 L424.4 1221.4 L428.4 1217.4 L432.4 1213.5 L436.4 1209.6 L440.4 1205.6 L444.4 1201.7 L448.4 1197.8 L452.4 1193.9 L456.4 1190 L460.4 1186 L464.4 1182.1 L468.4 1178.2 L472.4 1174.3 L476.4 1170.4 L480.4 1166.5 L484.4 1162.5 L488.4 1158.6 L492.4 1154.6 L496.4 1150.7 L500.4 1146.7 L504.4 1142.7 L508.4 1138.7 L512.4 1134.7 L516.4 1130.6 L520.4 1126.6 L524.4 1122.5 L528.4 1118.4 L532.4 1114.2 L536.4 1110.1 L540.4 1105.9 L544.4 1101.7 L548.4 1097.4 L552.4 1093.2 L556.4 1088.8 L560.4 1084.5 L564.4 1080.1 L568.4 1075.7 L572.4 1071.3 L576.4 1066.8 L580.4 1062.3 L584.4 1057.7 L588.4 1053.2 L592.4 1048.6 L596.4 1043.9 L600.4 1039.3 L604.4 1034.6 L608.4 1029.9 L612.4 1025.1 L616.4 1020.4 L620.4 1015.6 L624.4 1010.8 L628.4 1005.9 L632.4 1001.1 L636.4 996.2 L640.4 991.3 L644.4 986.4 L648.4 981.4 L652.4 976.4 L656.4 971.5 L660.4 966.5 L664.4 961.4 L668.4 956.4 L672.4 951.3 L676.4 946.3 L680.4 941.2 L684.4 936.1 L688.4 931 L692.4 925.9 L696.4 920.7 L700.4 915.6 L704.4 910.4 L708.4 905.2 L712.4 900 L716.4 894.9 L720.4 889.7 L724.4 884.4 L728.4 879.2 L732.4 874 L736.4 868.8 L740.4 863.6 L744.4 858.3 L748.4 853.1 L752.4 847.9 L756.4 842.6 L760.4 837.4 L764.4 832.1 L768.4 826.9 L772.4 821.7 L776.4 816.4 L780.4 811.2 L784.4 805.9 L788.4 800.7 L792.4 795.5 L796.4 790.3 L800.4 785.1 L804.4 779.9 L808.4 774.7 L812.4 769.5 L816.4 764.3 L820.4 759.1 L824.4 753.9 L828.4 748.7 L832.4 743.5 L836.4 738.3 L840.4 733.1 L844.4 727.8 L848.4 722.6 L852.4 717.3 L856.4 712 L860.4 706.7 L864.4 701.4 L868.4 696.1 L872.4 690.7 L876.4 685.3 L880.4 679.8 L884.4 674.4 L888.4 668.9 L892.4 663.3 L896.4 657.8 L900.4 652.2 L904.4 646.5 L908.4 640.9 L912.4 635.2 L916.4 629.5 L920.4 623.8 L924.4 618 L928.4 612.3 L932.4 606.6 L936.4 600.8 L940.4 595.1 L944.4 589.4 L948.4 583.7 L952.4 578 L956.4 572.4 L960.4 566.7 L964.4 561.1 L968.4 555.6 L972.4 550.1 L976.4 544.6 L980.4 539.1 L984.4 533.6 L988.4 528.2 L992.4 522.7 L996.4 517.3 L1000.4 511.9 L1004.4 506.4 L1008.4 501 L1012.4 495.6 L1016.4 490.1 L1020.4 484.7 L1024.4 479.2 L1028.4 473.8 L1032.4 468.4 L1036.4 463.1 L1040.4 457.7 L1044.4 452.4 L1048.4 447.1 L1052.4 441.9 L1056.4 436.7 L1060.4 431.6 L1064.4 426.5 L1068.4 421.5 L1072.4 416.5 L1076.4 411.6 L1080.4 406.8 L1084.4 402 L1088.4 397.3 L1092.4 392.7 L1096.4 388.2 L1100.4 383.8 L1104.4 379.4 L1108.4 375.1 L1112.4 370.9 L1116.4 366.7 L1120.4 362.6 L1124.4 358.6 L1128.4 354.7 L1132.4 350.8 L1136.4 347.1 L1140.4 343.4 L1144.4 339.7 L1148.4 336.2 L1152.4 332.7 L1156.4 329.2 L1160.4 325.9 L1164.4 322.6 L1168.4 319.3 L1172.4 316.1 L1176.4 313 L1180.4 309.8 L1184.4 306.8 L1188.4 303.7 L1192.4 300.7 L1196.4 297.7 L1200.4 294.7 L1204.4 291.8 L1208.4 288.8 L1212.4 285.9 L1216.4 283 L1220.4 280.1 L1224.4 277.1 L1228.4 274.2 L1232.4 271.2 L1236.4 268.3 L1240.4 265.4 L1244.4 262.4 L1248.4 259.5 L1252.4 256.6 L1256.4 253.7 L1260.4 250.8 L1264.4 247.9 L1268.4 245 L1272.4 242.2 L1276.4 239.4 L1280.4 236.6 L1284.4 233.8 L1288.4 231.1 L1292.4 228.4 L1296.4 225.8 L1300.4 223.1 L1304.4 220.5 L1308.4 218 L1312.4 215.4 L1316.4 212.9 L1320.4 210.4 L1324.4 208 L1328.4 205.5 L1332.4 203.1 L1336.4 200.8 L1340.4 198.4 L1344.4 196.1 L1348.4 193.8 L1352.4 191.6 L1356.4 189.3 L1360.4 187.1 L1364.4 185 L1368.4 182.8 L1372.4 180.7 L1376.4 178.6 L1380.4 176.5 L1384.4 174.5 L1388.4 172.4 L1392.4 170.5 L1396.4 168.5 L1400.4 166.5 L1404.4 164.6 L1408.4 162.7 L1412.4 160.8 L1416.4 159 L1420.4 157.1 L1424.4 155.3 L1428.4 153.5 L1432.4 151.8 L1436.4 150 L1440.4 148.3 L1444.4 146.6 L1448.4 144.9 L1452.4 143.3 L1456.4 141.6 L1460.4 140 L1464.4 138.4 L1468.4 136.8 L1472.4 135.2 L1476.4 133.7 L1480.4 132.2 L1484.4 130.7 L1488.4 129.2 L1492.4 127.7 L1496.4 126.3 L1500.4 124.8 L1504.4 123.4 L1508.4 122 L1512.4 120.7 L1516.4 119.3 L1520.4 117.9 L1524.4 116.6 L1528.4 115.3 L1532.4 114 L1536.4 112.7 L1540.4 111.4 L1544.4 110.2 L1548.4 108.9 L1552.4 107.7 L1556.4 106.5 L1560.4 105.3 L1564.4 104.1 L1568.4 102.9 L1572.4 101.8 L1576.4 100.6 L1580.4 99.5 L1584.4 98.4 L1588.4 97.2 L1592.4 96.1 L1596.4 95.1 L1600.4 94 L1604.4 92.9 L1608.4 91.9 L1612.4 90.8 L1616.4 89.8 L1620.4 88.7 L1624.4 87.7 L1628.4 86.7 L1632.4 85.7 L1636.4 84.7 L1640.4 83.7 L1644.4 82.8 L1648.4 81.8 L1652.4 80.8 L1656.4 79.9 L1660.4 78.9 L1664.4 78 L1668.4 77.1 L1672.4 76.1 L1676.4 75.2 L1677.3 75" fill="none" stroke="#006400" stroke-width="2.5" stroke-linejoin="round"/>
<polygon points="400.4,1217.8 376.4,1259.4 424.4,1259.4" fill="#006400" stroke="#006400" stroke-width="1" stroke-linejoin="round"/><polygon points="645.6,976.3 621.6,1017.9 669.6,1017.9" fill="#006400" stroke="#006400" stroke-width="1" stroke-linejoin="round"/><polygon points="953.5,545.6 929.5,587.2 977.5,587.2" fill="#006400" stroke="#006400" stroke-width="1" stroke-linejoin="round"/><polygon points="1102.5,341.8 1078.5,383.4 1126.5,383.4" fill="#006400" stroke="#006400" stroke-width="1" stroke-linejoin="round"/><polygon points="1170.3,295.8 1146.3,337.4 1194.3,337.4" fill="#006400" stroke="#006400" stroke-width="1" stroke-linejoin="round"/><polygon points="1379,126.3 1355,167.9 1403,167.9" fill="#006400" stroke="#006400" stroke-width="1" stroke-linejoin="round"/><polygon points="1677.3,47.3 1653.3,88.9 1701.3,88.9" fill="#006400" stroke="#006400" stroke-width="1" stroke-linejoin="round"/>
<path d="M513.1 1136.8 L692.8 929.5 M722.8 881.8 L939 378.6 M969.8 331.6 L1118.1 172.6 M1165.6 146.6 L1263.6 128.5 M1305 116.6 L1466.5 83 M1524 77.3 L1656.5 80.8" fill="none" stroke="#8b008b" stroke-width="2.8"/>
<polygon points="469.6,1158.3 506.8,1136.8 506.8,1179.8" fill="#fff" stroke="#8b008b" stroke-width="3.4" stroke-linejoin="miter"/><polygon points="686.7,908 723.9,886.5 723.9,929.5" fill="#fff" stroke="#8b008b" stroke-width="3.4" stroke-linejoin="miter"/><polygon points="925.5,352.4 962.7,330.9 962.7,373.9" fill="#fff" stroke="#8b008b" stroke-width="3.4" stroke-linejoin="miter"/><polygon points="1112.8,151.8 1150,130.3 1150,173.3" fill="#fff" stroke="#8b008b" stroke-width="3.4" stroke-linejoin="miter"/><polygon points="1266.8,123.3 1304,101.8 1304,144.8" fill="#fff" stroke="#8b008b" stroke-width="3.4" stroke-linejoin="miter"/><polygon points="1470.7,76.5 1507.9,55 1507.9,98" fill="#fff" stroke="#8b008b" stroke-width="3.4" stroke-linejoin="miter"/><polygon points="1660.2,81.6 1697.4,60.1 1697.4,103.1" fill="#fff" stroke="#8b008b" stroke-width="3.4" stroke-linejoin="miter"/>
</g>
<text transform="translate(379.1,174.2) scale(1,1.043)" font-family='"Liberation Sans", sans-serif' font-size="81" fill="#000">H<tspan font-size="49" dy="26.5">2</tspan><tspan dy="-26.5">O/C=3.25</tspan></text>
<text transform="translate(367.4,1344.2) scale(1,1.043)" font-family='"Liberation Sans", sans-serif' font-size="81" fill="#000">H<tspan font-size="49" dy="26.5">2</tspan><tspan dy="-26.5">O/C=3.25</tspan></text>
<text font-family='"Liberation Serif", serif' font-weight="bold" fill="#000"><tspan x="1633.45" y="241.88" font-size="71.4">(</tspan><tspan x="1658.6" y="249.1" font-size="77">a</tspan><tspan x="1696.46" y="241.88" font-size="71.4">)</tspan></text>
<text font-family='"Liberation Serif", serif' font-weight="bold" fill="#000"><tspan x="1617.35" y="1407.88" font-size="71.4">(</tspan><tspan x="1641.8" y="1416.18" font-size="82.8">b</tspan><tspan x="1689.47" y="1407.88" font-size="71.4">)</tspan></text>
<g font-family='"Liberation Sans", sans-serif' fill="#000">
<text transform="translate(1202,739) scale(1.012,1.04)" font-size="90">GHSV (h<tspan font-size="51.3" dy="-43.6">-1</tspan><tspan dy="43.6">)</tspan></text>
<path d="M1201 830.3 H1237.5 M1292 830.3 H1326.6" stroke="#8b008b" stroke-width="2.6" fill="none" shape-rendering="crispEdges"/>
<polygon points="1239.2,830.3 1276.4,808.8 1276.4,851.8" fill="#fff" stroke="#8b008b" stroke-width="3.4" stroke-linejoin="miter"/>
<text transform="translate(1352.5,848.5) scale(1,1.04)" font-size="90">16,800</text>
<path d="M1201 939.8 H1237.5 M1292 939.8 H1326.6" stroke="#ff0000" stroke-width="2.6" fill="none" shape-rendering="crispEdges"/>
<circle cx="1264" cy="939.8" r="20.6" fill="#ff0000"/>
<text transform="translate(1352.5,958.5) scale(1,1.04)" font-size="90">33,500</text>
<path d="M1201 1050.5 H1237.5 M1292 1050.5 H1326.6" stroke="#000000" stroke-width="2.6" fill="none" shape-rendering="crispEdges"/>
<rect x="1246" y="1032.5" width="36" height="36" fill="#000000"/>
<text transform="translate(1352.5,1068.5) scale(1,1.04)" font-size="90">55,900</text>
<path d="M1201 1160.5 H1237.5 M1292 1160.5 H1326.6" stroke="#006400" stroke-width="2.6" fill="none" shape-rendering="crispEdges"/>
<polygon points="1264,1132.8 1240,1174.4 1288,1174.4" fill="#006400" stroke="#006400" stroke-width="1" stroke-linejoin="round"/>
<text transform="translate(1352.5,1179.5) scale(1,1.04)" font-size="90">78,200</text>
</g>
<g font-family='"Liberation Sans", sans-serif' fill="#000">
<text transform="translate(1254,1921.4) scale(1.012,1.04)" font-size="82">GHSV (h<tspan font-size="46.7" dy="-39.8">-1</tspan><tspan dy="39.8">)</tspan></text>
<path d="M1252.7 2013 H1283.5 M1338 2013 H1368" stroke="#00009b" stroke-width="2" fill="none" shape-rendering="crispEdges"/>
<polygon points="1285.2,2013 1322.4,1991.5 1322.4,2034.5" fill="#fff" stroke="#00009b" stroke-width="3.4" stroke-linejoin="miter"/>
<text transform="translate(1394.2,2030.5) scale(1,1.04)" font-size="90">16,800</text>
<path d="M1252.7 2123 H1283.5 M1338 2123 H1368" stroke="#ff0000" stroke-width="2" fill="none" shape-rendering="crispEdges"/>
<circle cx="1310" cy="2123" r="20.6" fill="#ff0000"/>
<text transform="translate(1394.2,2139.5) scale(1,1.04)" font-size="90">33,500</text>
<path d="M1252.7 2233.5 H1283.5 M1338 2233.5 H1368" stroke="#000000" stroke-width="2" fill="none" shape-rendering="crispEdges"/>
<rect x="1292" y="2215.5" width="36" height="36" fill="#000000"/>
<text transform="translate(1394.2,2250) scale(1,1.04)" font-size="90">55,900</text>
<path d="M1252.7 2344 H1283.5 M1338 2344 H1368" stroke="#006400" stroke-width="2" fill="none" shape-rendering="crispEdges"/>
<polygon points="1310,2316.3 1286,2357.9 1334,2357.9" fill="#006400" stroke="#006400" stroke-width="1" stroke-linejoin="round"/>
<text transform="translate(1394.2,2361) scale(1,1.04)" font-size="90">78,200</text>
</g>
<g><text transform="translate(125.0,866.46) rotate(-90) scale(1.1195,1.0415)" font-family="'Liberation Sans', sans-serif" font-style="italic" font-weight="normal" font-size="120" fill="#000">X</text><text transform="translate(167.32,785.15) rotate(-90) scale(0.938,1.0189)" font-family="'Liberation Sans', sans-serif" font-style="normal" font-weight="normal" font-size="75" fill="#000">C</text><text transform="translate(166.32,731.95) rotate(-90) scale(0.974,1.0174)" font-family="'Liberation Sans', sans-serif" font-style="normal" font-weight="normal" font-size="54" fill="#000">3</text><text transform="translate(167.34,701.82) rotate(-90) scale(0.9504,1.0169)" font-family="'Liberation Sans', sans-serif" font-style="normal" font-weight="normal" font-size="75" fill="#000">H</text><text transform="translate(166.32,649.19) rotate(-90) scale(0.9829,1.0174)" font-family="'Liberation Sans', sans-serif" font-style="normal" font-weight="normal" font-size="54" fill="#000">8</text><text transform="translate(123.77,588.98) rotate(-90) scale(1.017,0.9954)" font-family="'Liberation Sans', sans-serif" font-style="normal" font-weight="normal" font-size="108" fill="#000">(%)</text></g>
<g><text transform="translate(124.1,2059.66) rotate(-90) scale(1.1206,1.044)" font-family="'Liberation Sans', sans-serif" font-style="italic" font-weight="normal" font-size="120" fill="#000">X</text><text transform="translate(165.92,1977.82) rotate(-90) scale(0.9296,1.0132)" font-family="'Liberation Sans', sans-serif" font-style="normal" font-weight="normal" font-size="75" fill="#000">C</text><text transform="translate(166.0,1926.13) rotate(-90) scale(0.9963,1.0622)" font-family="'Liberation Sans', sans-serif" font-style="normal" font-weight="normal" font-size="54" fill="#000">4</text><text transform="translate(166.34,1894.96) rotate(-90) scale(0.9576,1.013)" font-family="'Liberation Sans', sans-serif" font-style="normal" font-weight="normal" font-size="75" fill="#000">H</text><text transform="translate(165.32,1841.5) rotate(-90) scale(0.9846,1.0252)" font-family="'Liberation Sans', sans-serif" font-style="normal" font-weight="normal" font-size="54" fill="#000">1</text><text transform="translate(165.32,1811.17) rotate(-90) scale(0.9846,1.0252)" font-family="'Liberation Sans', sans-serif" font-style="normal" font-weight="normal" font-size="54" fill="#000">0</text><text transform="translate(122.87,1750.66) rotate(-90) scale(1.0144,0.9954)" font-family="'Liberation Sans', sans-serif" font-style="normal" font-weight="normal" font-size="108" fill="#000">(%)</text></g>
<text transform="translate(1050,2689.3) scale(1,1.044)" text-anchor="middle" font-family='"Liberation Sans", sans-serif' font-size="109.6" fill="#000">Temperature (<tspan font-size="66" dy="-50.5">o</tspan><tspan dy="50.5">C)</tspan></text>
</svg></body></html>
